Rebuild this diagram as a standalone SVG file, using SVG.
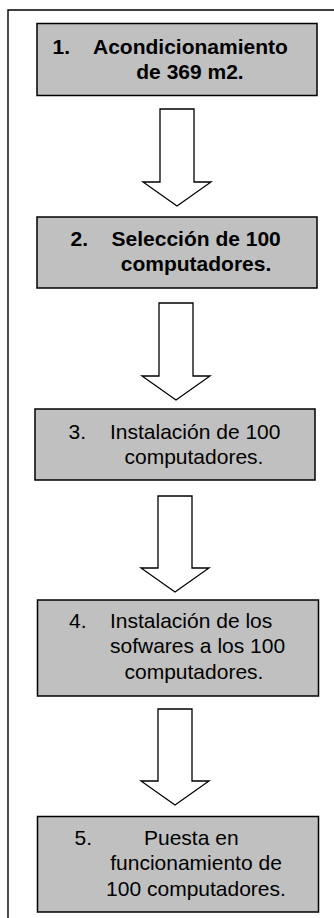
<svg xmlns="http://www.w3.org/2000/svg" width="334" height="918" viewBox="0 0 334 918">
<style>
.frame{fill:none;stroke:#000;stroke-width:1.4}
.box{fill:#c0c0c0;stroke:#000;stroke-width:1.5}
.arrow{fill:#fff;stroke:#000;stroke-width:1.3;stroke-linejoin:miter}
text{font-family:"Liberation Sans",Arial,sans-serif;font-size:21px;fill:#000}
.b{font-weight:bold}
</style>
<rect width="334" height="918" fill="#fff"/>
<path class="frame" d="M8,930 V10 H340"/>
<g id="connectors">
<path class="arrow" d="M160,109 H194 V182 H211 L177,206 L143,182 H160 Z"/>
<path class="arrow" d="M159,303 H193 V376 H210 L176,400 L142,376 H159 Z"/>
<path class="arrow" d="M158,496 H192 V568 H209 L175,592 L141,568 H158 Z"/>
<path class="arrow" d="M158,709 H192 V781 H209 L175,805 L141,781 H158 Z"/>
</g>
<g id="node1">
<rect class="box" x="37" y="23.5" width="280" height="72"/>
<text class="b" x="52.5" y="53.5">1.</text>
<text class="b" x="93" y="53.5">Acondicionamiento</text>
<text class="b" x="190" y="78.5" text-anchor="middle">de 369 m2.</text>
</g>
<g id="node2">
<rect class="box" x="37" y="217" width="280" height="71"/>
<text class="b" x="70.5" y="246">2.</text>
<text class="b" x="111.5" y="246">Selección de 100</text>
<text class="b" x="196" y="271" text-anchor="middle">computadores.</text>
</g>
<g id="node3">
<rect class="box" x="35" y="409" width="280" height="71"/>
<text x="68.5" y="439">3.</text>
<text x="110" y="439">Instalación de 100</text>
<text x="124.5" y="463.5">computadores.</text>
</g>
<g id="node4">
<rect class="box" x="37.5" y="600" width="281" height="96"/>
<text x="69" y="627.5">4.</text>
<text x="110" y="627.5">Instalación de los</text>
<text x="110" y="653">sofwares a los 100</text>
<text x="124.5" y="678.5">computadores.</text>
</g>
<g id="node5">
<rect class="box" x="37.5" y="816.5" width="281" height="95.5"/>
<text x="74.5" y="845">5.</text>
<text x="144" y="845">Puesta en</text>
<text x="196" y="870" text-anchor="middle">funcionamiento de</text>
<text x="196" y="895.5" text-anchor="middle">100 computadores.</text>
</g>
</svg>
